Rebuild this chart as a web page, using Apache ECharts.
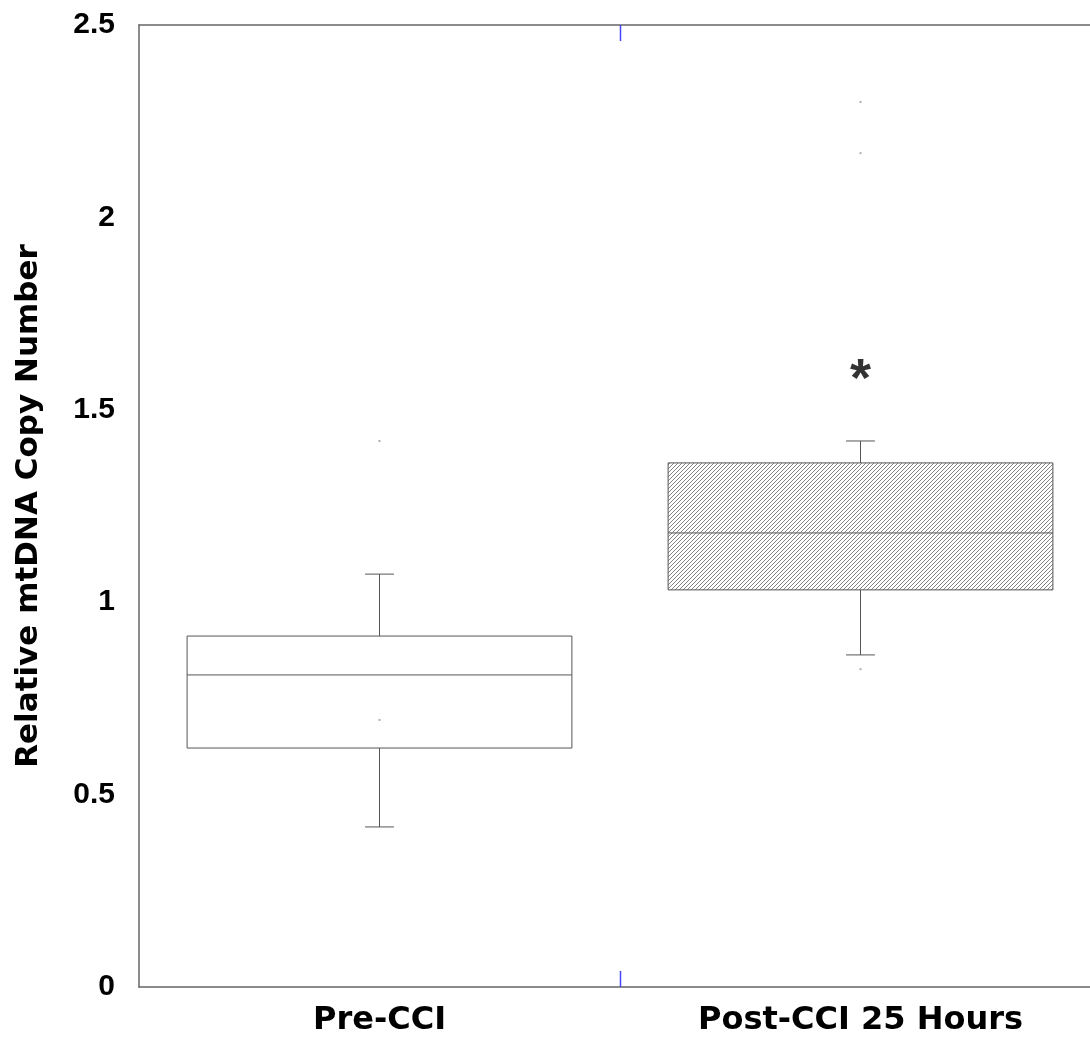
<!DOCTYPE html>
<html>
<head>
<meta charset="utf-8">
<style>
html,body{margin:0;padding:0;background:#fff;overflow:hidden;}
#chart{width:1101px;height:1038px;}
</style>
<script src="https://cdn.jsdelivr.net/npm/echarts@6/dist/echarts.min.js"></script>
</head>
<body>
<div id="chart"></div>
<script>
// ---- data ----
var categories = ['Pre-CCI', 'Post-CCI 25 Hours'];
// [whiskerLow, Q1, median, Q3, whiskerHigh]
var boxStats = [
  [0.416, 0.621, 0.811, 0.912, 1.073],
  [0.863, 1.032, 1.180, 1.362, 1.419]
];
// individual points [categoryIndex, value]
var outlierPoints = [
  [0, 1.419], [0, 0.694],
  [1, 2.300], [1, 2.167], [1, 0.826]
];
var yTicks = [0, 0.5, 1, 1.5, 2, 2.5];
var significance = [[1, 1.575, '*']];

// ---- hatch pattern ----
function makeHatch() {
  var c = document.createElement('canvas');
  c.width = 8; c.height = 8;
  var ctx = c.getContext('2d');
  var img = ctx.createImageData(8, 8);
  for (var y = 0; y < 8; y++) {
    for (var x = 0; x < 8; x++) {
      var i = (y * 8 + x) * 4;
      var on = ((x + y) % 4 === 0);
      var v = on ? 135 : 255;
      img.data[i] = v; img.data[i+1] = v; img.data[i+2] = v; img.data[i+3] = 255;
    }
  }
  ctx.putImageData(img, 0, 0);
  return c;
}
var hatch = makeHatch();

var chart = echarts.init(document.getElementById('chart'));
var lineColor = '#555';
var boxData = boxStats.map(function (s, i) { return [i].concat(s); });
var yMin = yTicks[0], yMax = yTicks[yTicks.length - 1];

function renderBox(params, api) {
  var idx = api.value(0);
  var band = api.size([1, 0])[0];
  var half = band * 0.4;
  var capHalf = band * 0.03;
  var cx = api.coord([idx, 0])[0];
  var yLow = api.coord([idx, api.value(1)])[1];
  var yQ1 = api.coord([idx, api.value(2)])[1];
  var yMed = api.coord([idx, api.value(3)])[1];
  var yQ3 = api.coord([idx, api.value(4)])[1];
  var yHigh = api.coord([idx, api.value(5)])[1];
  var fill = idx === 1 ? { image: hatch, repeat: 'repeat' } : '#fff';
  var ls = { stroke: lineColor, lineWidth: 1, fill: null };
  var children = [
    { type: 'line', shape: { x1: cx, y1: yQ3, x2: cx, y2: yHigh }, style: ls },
    { type: 'line', shape: { x1: cx - capHalf, y1: yHigh, x2: cx + capHalf, y2: yHigh }, style: ls },
    { type: 'line', shape: { x1: cx, y1: yQ1, x2: cx, y2: yLow }, style: ls },
    { type: 'line', shape: { x1: cx - capHalf, y1: yLow, x2: cx + capHalf, y2: yLow }, style: ls },
    { type: 'rect', shape: { x: cx - half, y: yQ3, width: half * 2, height: yQ1 - yQ3 },
      style: { fill: fill, stroke: lineColor, lineWidth: 1 } },
    { type: 'line', shape: { x1: cx - half, y1: yMed, x2: cx + half, y2: yMed }, style: ls }
  ];
  if (idx > 0) {
    // category boundary ticks (inside, top and bottom)
    var bx = Math.round(cx - band / 2) + 0.5;
    var yTop = api.coord([idx, yMax])[1];
    var yBot = api.coord([idx, yMin])[1];
    var ts = { stroke: '#4444ff', lineWidth: 1.5, fill: null };
    children.push({ type: 'line', shape: { x1: bx, y1: yTop, x2: bx, y2: yTop + 16 }, style: ts });
    children.push({ type: 'line', shape: { x1: bx, y1: yBot, x2: bx, y2: yBot - 16 }, style: ts });
  }
  return { type: 'group', children: children };
}

var option = {
  animation: false,
  backgroundColor: '#fff',
  grid: { left: 139, top: 25, right: 0, bottom: 51, containLabel: false },
  xAxis: [
    {
      type: 'category', data: categories, position: 'bottom',
      boundaryGap: true,
      axisLine: { show: true, lineStyle: { color: '#666', width: 1.5 } },
      axisTick: { show: false },
      axisLabel: { fontSize: 32, margin: 18, fontFamily: 'DejaVu Sans', fontWeight: 'bold', color: '#000' },
      splitLine: { show: false }
    },
    {
      type: 'category', data: categories, position: 'top',
      boundaryGap: true,
      axisLine: { show: true, lineStyle: { color: '#666', width: 1.5 } },
      axisTick: { show: false },
      axisLabel: { show: false },
      splitLine: { show: false }
    }
  ],
  yAxis: {
    type: 'value', min: yMin, max: yMax, interval: 0.5,
    axisLine: { show: true, lineStyle: { color: '#666', width: 1.5 } },
    axisTick: { show: false },
    splitLine: { show: false },
    axisLabel: { fontSize: 30, margin: 24, fontFamily: 'Liberation Sans, Arial, sans-serif', fontWeight: 'bold', color: '#000' },
    name: 'Relative mtDNA Copy Number',
    nameLocation: 'middle',
    nameGap: 95,
    nameTextStyle: { fontFamily: 'DejaVu Sans', fontWeight: 'bold', fontSize: 31, color: '#000' }
  },
  series: [
    {
      type: 'custom',
      renderItem: renderBox,
      encode: { x: 0, y: [1, 2, 3, 4, 5] },
      data: boxData,
      z: 2
    },
    {
      type: 'scatter',
      data: outlierPoints,
      symbol: 'rect',
      symbolSize: 2,
      itemStyle: { color: '#999' },
      z: 3
    },
    {
      type: 'scatter',
      data: significance,
      symbolSize: 0,
      label: {
        show: true, position: 'inside',
        formatter: function (p) { return p.data[2]; },
        fontSize: 54, fontWeight: 'bold', color: '#000',
        fontFamily: 'Liberation Sans, Arial, sans-serif'
      },
      z: 4
    }
  ]
};
chart.setOption(option);
</script>
</body>
</html>
